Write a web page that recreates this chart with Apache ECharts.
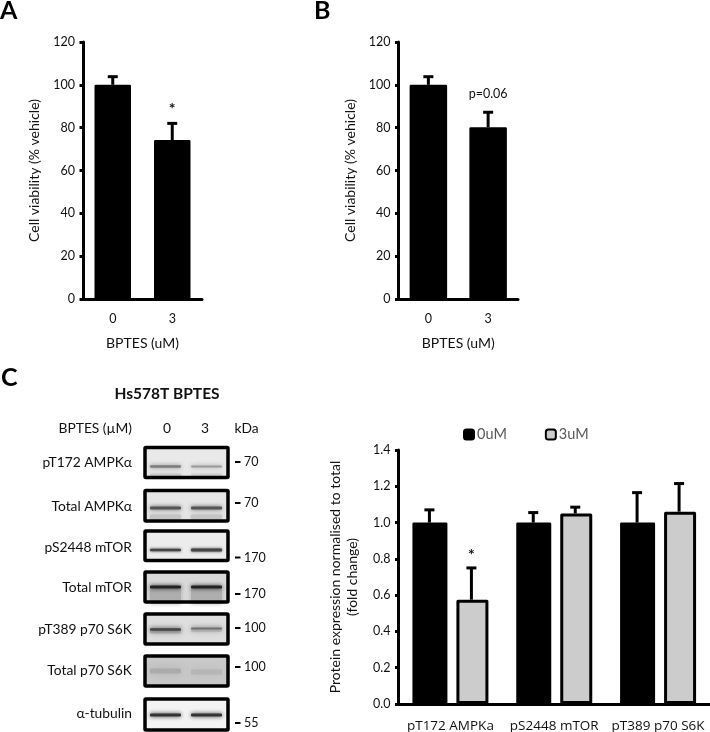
<!DOCTYPE html>
<html>
<head>
<meta charset="utf-8">
<style>html,body{margin:0;padding:0;background:#fff}#c{width:710px;height:732px}</style>
<script src="https://cdn.jsdelivr.net/npm/echarts@6/dist/echarts.min.js"></script>
</head>
<body>
<div id="c"></div>
<script>
// ---- data ----
const doseCategories = ['0', '3'];
const viabilityA = [100, 74.2];
const viabilityAErrTop = [103.8, 82];
const viabilityB = [100, 80.2];
const viabilityBErrTop = [103.8, 87.2];
const proteinCategories = ['pT172 AMPKa', 'pS2448 mTOR', 'pT389 p70 S6K'];
const protein0uM = [1.0, 1.0, 1.0];
const protein0uMErrTop = [1.07, 1.055, 1.165];
const protein3uM = [0.575, 1.05, 1.06];
const protein3uMErrTop = [0.75, 1.085, 1.215];
const blotLabels = ['pT172 AMPKα', 'Total AMPKα', 'pS2448 mTOR', 'Total mTOR', 'pT389 p70 S6K', 'Total p70 S6K', 'α-tubulin'];
const blotSizes = ['70', '70', '170', '170', '100', '100', '55'];

// ---- layout and style ----
const FONT = 'Lato';
const TXT = '#111';
const blotTop = [446, 489, 529.5, 570.5, 612.5, 654.5, 697.5];
const blotBottom = [479, 522.5, 562, 603.5, 645.5, 687.5, 731.5];
const blotBg = ['#e9e9e9', '#e6e6e6', '#ececec', '#d9d9d9', '#dedede', '#c9c9c9', '#f3f3f3'];
const labelY = [463, 507, 548, 588, 630, 671, 714];
const sizeY = [462, 503, 557.5, 594, 628, 667, 723];
// per panel: list of [lane, centre y, height, colour, blur]
const bands = [
  [[0,466.5,2.5,'#7d7d7d',2],[1,466.5,2,'#9a9a9a',2],[0,475,3,'#c8c8c8',2],[1,475,3,'#d0d0d0',2]],
  [[0,508,3,'#555',2],[1,508,3,'#555',2],[0,517,5,'#c4c4c4',2],[1,517,5,'#c4c4c4',2]],
  [[0,550,2.5,'#444',1.5],[1,550,3,'#444',1.5]],
  [[0,596,15,'#aeaeae',2],[1,596,15,'#aeaeae',2],[0,587,3,'#222',2],[1,587,3,'#222',2]],
  [[0,631,5,'#b5b5b5',3],[1,630,4,'#c0c0c0',3],[0,629.5,2.5,'#444',2],[1,628.5,2,'#707070',2]],
  [[0,671,5,'#ababab',5],[1,672,5,'#b6b6b6',5]],
  [[0,715,3,'#333',2],[1,715,3,'#333',2]]
];
const laneX = [[150, 181], [191, 222]];

function errorSeries(xi, cats, tops, vals, offset, note) {
  return {
    type: 'custom', xAxisIndex: xi, yAxisIndex: xi, z: 5, silent: true, clip: false,
    data: cats.map((c, i) => [i, tops[i], vals[i]]),
    renderItem(params, api) {
      const i = api.value(0);
      const hi = api.coord([i, api.value(1)]);
      const lo = api.coord([i, api.value(2)]);
      const x = hi[0] + offset, y = hi[1];
      const kids = [
        {type: 'rect', shape: {x: x - 1.5, y: y, width: 3, height: Math.max(0, lo[1] - y)}, style: {fill: '#000'}},
        {type: 'rect', shape: {x: x - 5, y: y - 1.5, width: 10, height: 3}, style: {fill: '#000'}}
      ];
      if (note && note[i]) {
        kids.push({type: 'text', style: {
          text: note[i].text, x: x, y: y + note[i].dy, align: 'center', verticalAlign: 'middle',
          font: note[i].font, fill: TXT}});
      }
      return {type: 'group', children: kids};
    }
  };
}

function yAxis(gi, max, interval, name, gap, fmt) {
  return {
    type: 'value', gridIndex: gi, min: 0, max, interval, name, nameLocation: 'middle', nameGap: gap,
    nameRotate: 90, nameTextStyle: {fontFamily: FONT, fontSize: 14, color: TXT, lineHeight: 17},
    splitLine: {show: false},
    axisLine: {show: true, lineStyle: {color: '#000', width: 3}},
    axisTick: {show: true, length: 3.5, lineStyle: {color: '#000', width: 3}},
    axisLabel: {fontFamily: FONT, fontSize: 12.5, color: TXT, margin: 8, formatter: fmt}
  };
}
function xAxis(gi, cats, name, size) {
  return {
    type: 'category', gridIndex: gi, data: cats, name, nameLocation: 'middle', nameGap: 37,
    nameTextStyle: {fontFamily: FONT, fontSize: 14, color: TXT},
    axisLine: {show: true, lineStyle: {color: '#000', width: 3}},
    axisTick: {show: false},
    axisLabel: {fontFamily: size > 13 ? 'Open Sans' : FONT, fontSize: size, color: TXT, margin: size > 13 ? 15 : 13, interval: 0}
  };
}
function black(name, xi, data, w) {
  return {name, type: 'bar', xAxisIndex: xi, yAxisIndex: xi, data, barWidth: w, barGap: '25.7%',
    itemStyle: {color: '#000', borderColor: '#000', borderWidth: 2.5, borderJoin: 'round'}};
}

// ---- blot decoration ----
const g = [];
function text(t, x, y, align, font, fill) {
  g.push({type: 'text', z: 20, style: {text: t, x, y, align, verticalAlign: 'middle', font, fill: fill || TXT}});
}
text('A', 0, 11, 'left', 'bold 25px ' + FONT, '#000');
text('B', 314, 11, 'left', 'bold 25px ' + FONT, '#000');
text('C', 1, 378, 'left', 'bold 25px ' + FONT, '#000');
text('Hs578T BPTES', 167, 394, 'center', 'bold 15.5px ' + FONT);
text('BPTES (µM)', 132, 429, 'right', '13.8px ' + FONT);
text('0', 167, 429, 'center', '13.8px ' + FONT);
text('3', 205, 429, 'center', '13.8px ' + FONT);
text('kDa', 246.5, 429, 'center', '13.8px ' + FONT);
blotLabels.forEach((lab, p) => {
  const t = blotTop[p], b = blotBottom[p];
  text(lab, 132, labelY[p], 'right', '13.8px ' + FONT);
  g.push({type: 'rect', z: 10, shape: {x: 145, y: t + 1.5, width: 83, height: b - t - 3}, style: {fill: blotBg[p]}});
  bands[p].forEach(bd => {
    const x = laneX[bd[0]];
    g.push({type: 'rect', z: 11, shape: {x: x[0], y: bd[1] - bd[2] / 2, width: x[1] - x[0], height: bd[2], r: 1},
      style: {fill: bd[3], shadowBlur: bd[4] * 2, shadowColor: bd[3]}});
  });
  g.push({type: 'rect', z: 12, shape: {x: 145, y: t + 1.5, width: 83, height: b - t - 3, r: 1},
    style: {fill: 'none', stroke: '#000', lineWidth: 3.5, lineJoin: 'round'}});
  g.push({type: 'rect', z: 12, shape: {x: 235, y: sizeY[p] - 1, width: 5.5, height: 2}, style: {fill: '#000'}});
  text(blotSizes[p], 244, sizeY[p], 'left', '12.5px ' + FONT);
});

const chart = echarts.init(document.getElementById('c'), null, {renderer: 'canvas', width: 710, height: 732});
chart.setOption({
  animation: false,
  backgroundColor: '#fff',
  grid: [
    {left: 83, top: 42, width: 119, height: 257, outerBoundsMode: 'none'},
    {left: 398.5, top: 42, width: 119.5, height: 257, outerBoundsMode: 'none'},
    {left: 398.5, top: 450, width: 311.5, height: 254, outerBoundsMode: 'none'}
  ],
  xAxis: [
    xAxis(0, doseCategories, 'BPTES (uM)', 12.5),
    xAxis(1, doseCategories, 'BPTES (uM)', 12.5),
    xAxis(2, proteinCategories, '', 13.5)
  ],
  yAxis: [
    yAxis(0, 120, 20, 'Cell viability (% vehicle)', 40),
    yAxis(1, 120, 20, 'Cell viability (% vehicle)', 40),
    yAxis(2, 1.4, 0.2, 'Protein expression normalised to total\n(fold change)', 38, v => v.toFixed(1))
  ],
  legend: {
    left: 458, top: 422, itemWidth: 10, itemHeight: 10, itemGap: 38, data: ['0uM', '3uM'],
    textStyle: {fontFamily: FONT, fontSize: 14.5, color: '#595959', padding: [0, 0, 0, -2]}
  },
  series: [
    black('A', 0, viabilityA, 36.5),
    errorSeries(0, doseCategories, viabilityAErrTop, viabilityA, 0, [null, {text: '*', dy: -15, font: 'bold 16px ' + FONT}]),
    black('B', 1, viabilityB, 37.5),
    errorSeries(1, doseCategories, viabilityBErrTop, viabilityB, 0, [null, {text: 'p=0.06', dy: -18, font: '12.5px ' + FONT}]),
    black('0uM', 2, protein0uM, 35),
    {name: '3uM', type: 'bar', xAxisIndex: 2, yAxisIndex: 2, data: protein3uM, barWidth: 32,
      itemStyle: {color: '#cccccc', borderColor: '#000', borderWidth: 3, borderJoin: 'round'}},
    errorSeries(2, proteinCategories, protein0uMErrTop, protein0uM, -21),
    errorSeries(2, proteinCategories, protein3uMErrTop, protein3uM, 21, [{text: '*', dy: -13, font: 'bold 16px ' + FONT}])
  ],
  graphic: g
});
</script>
</body>
</html>
